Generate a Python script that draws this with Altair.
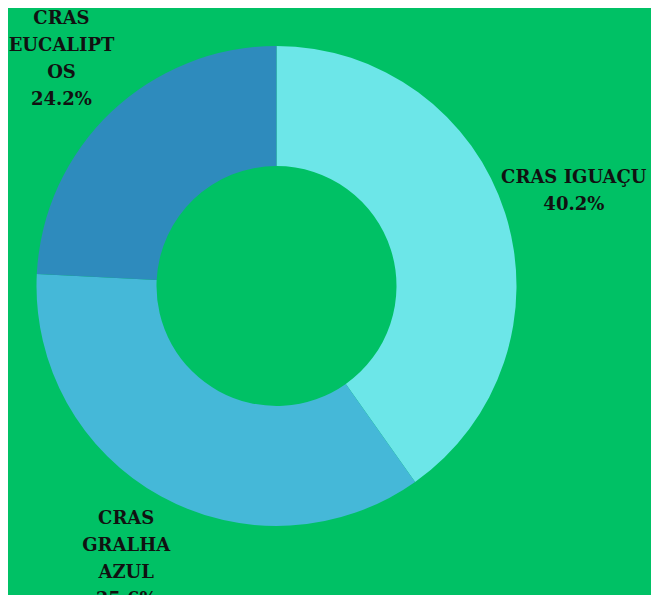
import altair as alt
import pandas as pd

categories = ["CRAS IGUAÇU", "CRAS GRALHA AZUL", "CRAS EUCALIPTOS"]
values = [40.2, 35.6, 24.2]
labels = ["CRAS IGUAÇU\n40.2%", "CRAS\nGRALHA\nAZUL\n35.6%", "CRAS\nEUCALIPT\nOS\n24.2%"]
colors = ["#6ce6e8", "#45b8d8", "#2e8bbd"]
order = [0, 1, 2]

LINE_H = 27
df = pd.DataFrame({"cat": categories, "value": values, "label": labels, "ord": order})
# shift multi-line labels so the block is centred on its anchor
df["off"] = [-(lab.count("\n")) * LINE_H / 2 for lab in labels]

base = alt.Chart(df).encode(
    x=alt.value(268.5),
    y=alt.value(278),
)

arcs = base.mark_arc(radius=240, radius2=120, stroke=None).encode(
    theta=alt.Theta("value:Q", stack=True),
    order=alt.Order("ord:Q"),
    color=alt.Color("cat:N", scale=alt.Scale(domain=categories, range=colors), legend=None)
)

text = base.transform_window(
    cum="sum(value)", sort=[alt.SortField("ord")]
).transform_joinaggregate(
    total="sum(value)"
).transform_calculate(
    mid="datum.cum - datum.value / 2"
).mark_text(
    radius=312, font="DejaVu Serif", fontWeight="bold", fontSize=18,
    lineBreak="\n", lineHeight=LINE_H, color="#111111", baseline="middle", align="center"
).encode(
    theta=alt.Theta("mid:Q", scale=alt.Scale(domain=[0, sum(values)])),
    text="label:N",
    yOffset=alt.YOffset("off:Q", scale=None),
)

chart = (arcs + text).resolve_scale(theta="independent").properties(
    width=643, height=587, background="#00c165",
    autosize=alt.AutoSizeParams(type="fit", contains="padding"), padding=0
).configure_view(stroke=None)

chart.save("out.html", embed_options={"renderer": "svg", "actions": False})
